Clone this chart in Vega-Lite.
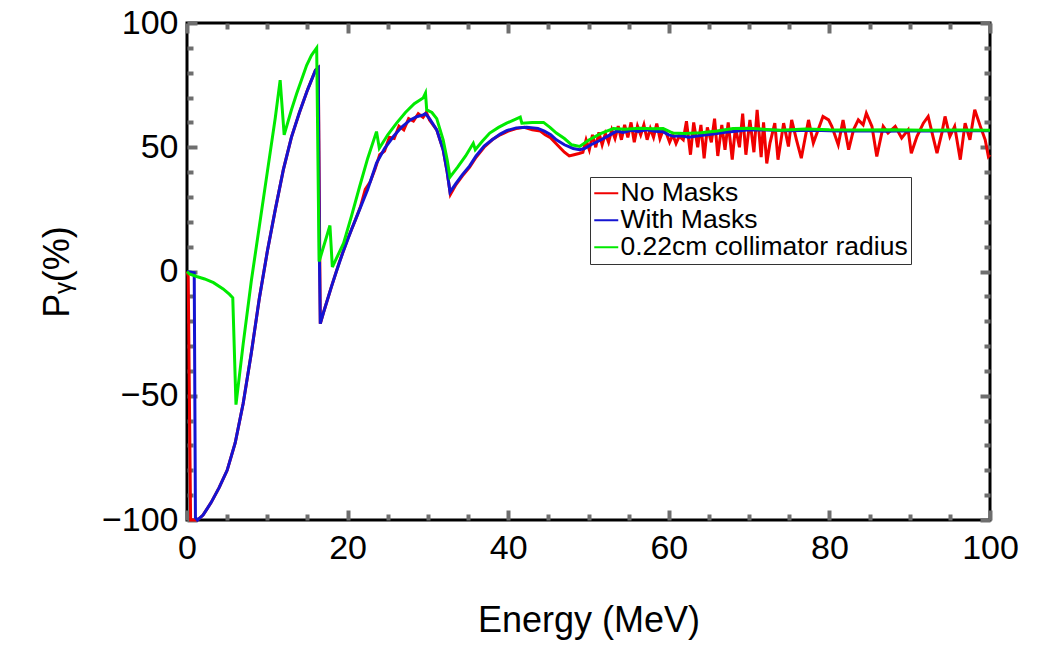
{
  "$schema": "https://vega.github.io/schema/vega-lite/v6.json",
  "width": 803,
  "height": 497,
  "autosize": {"type": "none"},
  "padding": {"left": 187, "top": 23, "right": 73, "bottom": 126},
  "background": "white",
  "config": {
    "font": "Liberation Sans",
    "view": {"stroke": "black", "strokeWidth": 3},
    "axis": {
      "domain": false,
      "grid": false,
      "ticks": true,
      "zindex": 1,
      "tickColor": "#6e6e6e",
      "tickOpacity": 1,
      "tickWidth": 3,
      "labelFlush": false,
      "labelOverlap": false,
      "labelColor": "black",
      "titleColor": "black",
      "labelFont": "Liberation Sans",
      "titleFont": "Liberation Sans",
      "titleFontWeight": "normal"
    }
  },
  "datasets": {
    "red": [
      {"E": 0, "P": 0}, {"E": 0.15, "P": -2}, {"E": 0.45, "P": -100}, {"E": 1.3, "P": -100},
      {"E": 2, "P": -98}, {"E": 3, "P": -93}, {"E": 4, "P": -87}, {"E": 5, "P": -80},
      {"E": 6, "P": -69}, {"E": 7, "P": -53}, {"E": 8, "P": -33}, {"E": 9, "P": -11},
      {"E": 10, "P": 8}, {"E": 11, "P": 25}, {"E": 12, "P": 41}, {"E": 13, "P": 54},
      {"E": 14, "P": 64}, {"E": 15, "P": 73}, {"E": 16, "P": 81}, {"E": 16.35, "P": 82},
      {"E": 16.6, "P": -21}, {"E": 17, "P": -16.5}, {"E": 18, "P": -6}, {"E": 19, "P": 4},
      {"E": 20, "P": 13}, {"E": 21, "P": 21}, {"E": 21.6, "P": 26}, {"E": 22.2, "P": 33},
      {"E": 22.8, "P": 36}, {"E": 23.4, "P": 41}, {"E": 24.0, "P": 47}, {"E": 24.6, "P": 48.5},
      {"E": 25.2, "P": 54}, {"E": 25.8, "P": 53.5}, {"E": 26.4, "P": 58.5}, {"E": 27.0, "P": 57},
      {"E": 27.6, "P": 61.5}, {"E": 28.2, "P": 60.5}, {"E": 28.8, "P": 63.5}, {"E": 29.4, "P": 62},
      {"E": 29.8, "P": 64}, {"E": 30.2, "P": 61}, {"E": 31.1, "P": 57}, {"E": 31.9, "P": 49},
      {"E": 32.4, "P": 40}, {"E": 32.8, "P": 31}, {"E": 33.5, "P": 35}, {"E": 34.3, "P": 38.5},
      {"E": 35.2, "P": 42}, {"E": 36, "P": 46}, {"E": 37, "P": 50}, {"E": 38, "P": 53},
      {"E": 39, "P": 55}, {"E": 40, "P": 56.5}, {"E": 41, "P": 57.5}, {"E": 42, "P": 58},
      {"E": 43, "P": 57}, {"E": 44, "P": 56.5}, {"E": 44.6, "P": 55}, {"E": 45.2, "P": 54},
      {"E": 45.8, "P": 52}, {"E": 46.4, "P": 50}, {"E": 47, "P": 48}, {"E": 47.6, "P": 46.5},
      {"E": 48.2, "P": 47}, {"E": 48.8, "P": 47.5}, {"E": 49.3, "P": 48}, {"E": 49.7, "P": 53},
      {"E": 50.1, "P": 49}, {"E": 50.5, "P": 55}, {"E": 50.9, "P": 50}, {"E": 51.3, "P": 56},
      {"E": 51.7, "P": 51}, {"E": 52.1, "P": 55.5}, {"E": 52.5, "P": 52}, {"E": 52.9, "P": 57},
      {"E": 53.3, "P": 53.5}, {"E": 53.7, "P": 58.5}, {"E": 54.1, "P": 53}, {"E": 54.5, "P": 59},
      {"E": 54.9, "P": 54}, {"E": 55.3, "P": 60}, {"E": 55.7, "P": 52}, {"E": 56.1, "P": 58.5},
      {"E": 56.5, "P": 55}, {"E": 56.9, "P": 59}, {"E": 57.3, "P": 53}, {"E": 57.7, "P": 57.5},
      {"E": 58.1, "P": 54}, {"E": 58.5, "P": 59.5}, {"E": 58.9, "P": 53.5}, {"E": 59.3, "P": 57},
      {"E": 59.7, "P": 55.5}, {"E": 60.1, "P": 52}, {"E": 60.5, "P": 55}, {"E": 60.9, "P": 51.5},
      {"E": 61.3, "P": 54.5}, {"E": 61.8, "P": 53}, {"E": 62.2, "P": 60.5}, {"E": 62.7, "P": 47},
      {"E": 63.1, "P": 60}, {"E": 63.6, "P": 50}, {"E": 64, "P": 59}, {"E": 64.4, "P": 45.5},
      {"E": 64.8, "P": 58}, {"E": 65.3, "P": 52}, {"E": 65.7, "P": 61.5}, {"E": 66.1, "P": 46.5},
      {"E": 66.6, "P": 59}, {"E": 67, "P": 49}, {"E": 67.4, "P": 60}, {"E": 67.9, "P": 45},
      {"E": 68.3, "P": 58}, {"E": 68.8, "P": 50}, {"E": 69.2, "P": 63.5}, {"E": 69.6, "P": 47},
      {"E": 70.1, "P": 61}, {"E": 70.6, "P": 48}, {"E": 71, "P": 65}, {"E": 71.5, "P": 46},
      {"E": 71.8, "P": 60}, {"E": 72.2, "P": 43.5}, {"E": 72.6, "P": 51.7}, {"E": 73.2, "P": 59.7},
      {"E": 73.6, "P": 45}, {"E": 74.3, "P": 59.7}, {"E": 74.9, "P": 50.3}, {"E": 75.3, "P": 61},
      {"E": 75.9, "P": 53}, {"E": 76.5, "P": 45.6}, {"E": 77.4, "P": 61}, {"E": 78, "P": 51.7},
      {"E": 78.6, "P": 57}, {"E": 79.2, "P": 62.4}, {"E": 79.9, "P": 61}, {"E": 80.3, "P": 58.4},
      {"E": 81.1, "P": 51}, {"E": 81.7, "P": 61}, {"E": 82.4, "P": 49}, {"E": 83, "P": 57},
      {"E": 83.6, "P": 61}, {"E": 84.2, "P": 59}, {"E": 84.6, "P": 63.7}, {"E": 85.3, "P": 58.4},
      {"E": 85.9, "P": 46.3}, {"E": 86.7, "P": 58.4}, {"E": 87.3, "P": 55.7}, {"E": 88.2, "P": 58.4},
      {"E": 89, "P": 53.7}, {"E": 89.8, "P": 57}, {"E": 90.2, "P": 47.6}, {"E": 90.9, "P": 54.3},
      {"E": 91.7, "P": 59.7}, {"E": 92.3, "P": 62.4}, {"E": 92.9, "P": 54.3}, {"E": 93.4, "P": 47.6},
      {"E": 94, "P": 55.7}, {"E": 94.4, "P": 62.4}, {"E": 95, "P": 54.3}, {"E": 95.6, "P": 58.4},
      {"E": 96.3, "P": 45}, {"E": 96.9, "P": 59.7}, {"E": 97.5, "P": 53}, {"E": 98.1, "P": 65.1},
      {"E": 98.8, "P": 58.4}, {"E": 99.4, "P": 53}, {"E": 99.8, "P": 46.3}, {"E": 100, "P": 47}
    ],
    "blue": [
      {"E": 0, "P": 0}, {"E": 0.9, "P": -0.5}, {"E": 1.05, "P": -99}, {"E": 1.3, "P": -100},
      {"E": 2, "P": -98}, {"E": 3, "P": -93}, {"E": 4, "P": -87}, {"E": 5, "P": -80},
      {"E": 6, "P": -69}, {"E": 7, "P": -53}, {"E": 8, "P": -33}, {"E": 9, "P": -11},
      {"E": 10, "P": 8}, {"E": 11, "P": 25}, {"E": 12, "P": 41}, {"E": 13, "P": 54},
      {"E": 14, "P": 64}, {"E": 15, "P": 73}, {"E": 16, "P": 81}, {"E": 16.35, "P": 82},
      {"E": 16.5, "P": 3}, {"E": 16.6, "P": -21}, {"E": 17, "P": -16.5}, {"E": 18, "P": -6},
      {"E": 18.6, "P": 0}, {"E": 19.5, "P": 8.5}, {"E": 20.5, "P": 17}, {"E": 21.5, "P": 25},
      {"E": 22.5, "P": 33}, {"E": 23.6, "P": 43.6}, {"E": 24.6, "P": 49.5}, {"E": 25.7, "P": 54.3},
      {"E": 26.7, "P": 58}, {"E": 27.8, "P": 61}, {"E": 28.6, "P": 62.3}, {"E": 29.4, "P": 63},
      {"E": 29.7, "P": 63.5}, {"E": 30.2, "P": 61.5}, {"E": 31.1, "P": 57}, {"E": 31.9, "P": 49},
      {"E": 32.4, "P": 40}, {"E": 32.75, "P": 32}, {"E": 33.5, "P": 35.5}, {"E": 34.3, "P": 39},
      {"E": 35.2, "P": 42.5}, {"E": 36, "P": 46.5}, {"E": 37, "P": 50.5}, {"E": 38, "P": 53},
      {"E": 39, "P": 55.3}, {"E": 39.8, "P": 56.7}, {"E": 41, "P": 57.8}, {"E": 42.3, "P": 58},
      {"E": 43.7, "P": 57.6}, {"E": 44.5, "P": 56.5}, {"E": 45.3, "P": 55}, {"E": 46, "P": 53},
      {"E": 47, "P": 51}, {"E": 48.1, "P": 49.5}, {"E": 48.9, "P": 49}, {"E": 49.5, "P": 49.5},
      {"E": 50.3, "P": 51}, {"E": 51.4, "P": 52.7}, {"E": 52.4, "P": 54.5}, {"E": 53.5, "P": 56.5},
      {"E": 54.3, "P": 56}, {"E": 55.3, "P": 56.8}, {"E": 56.2, "P": 56.3}, {"E": 57.2, "P": 57},
      {"E": 58.3, "P": 56.4}, {"E": 59.3, "P": 56.2}, {"E": 60, "P": 55}, {"E": 60.6, "P": 54.4},
      {"E": 61.5, "P": 54.6}, {"E": 62.5, "P": 54}, {"E": 63.5, "P": 54.5}, {"E": 64.7, "P": 55},
      {"E": 66, "P": 55.5}, {"E": 67, "P": 56}, {"E": 68, "P": 56.3}, {"E": 68.9, "P": 56.6},
      {"E": 70, "P": 57}, {"E": 72, "P": 56.9}, {"E": 75, "P": 56.6}, {"E": 78, "P": 56.8},
      {"E": 81, "P": 56.5}, {"E": 84, "P": 56.6}, {"E": 87, "P": 56.4}, {"E": 90, "P": 56.6},
      {"E": 93, "P": 56.5}, {"E": 96, "P": 56.6}, {"E": 100, "P": 56.6}
    ],
    "green": [
      {"E": 0, "P": 0}, {"E": 0.3, "P": -1}, {"E": 1.2, "P": -2}, {"E": 2.2, "P": -3},
      {"E": 3.3, "P": -4.5}, {"E": 4.5, "P": -7}, {"E": 5.3, "P": -9.2}, {"E": 5.7, "P": -10.6},
      {"E": 6.1, "P": -53.6}, {"E": 7, "P": -29}, {"E": 8, "P": -4}, {"E": 9, "P": 18},
      {"E": 10, "P": 40}, {"E": 11, "P": 62}, {"E": 11.6, "P": 77}, {"E": 12.1, "P": 55},
      {"E": 13, "P": 65}, {"E": 13.65, "P": 71.5}, {"E": 14.3, "P": 77.5}, {"E": 14.9, "P": 83},
      {"E": 15.5, "P": 87}, {"E": 16.15, "P": 90}, {"E": 16.45, "P": 4}, {"E": 17.8, "P": 18.5},
      {"E": 18.1, "P": 1.8}, {"E": 19.5, "P": 11.4}, {"E": 20.5, "P": 22.5}, {"E": 21.5, "P": 34.2},
      {"E": 22.5, "P": 45.5}, {"E": 23.6, "P": 56.3}, {"E": 23.95, "P": 49.6}, {"E": 25, "P": 55},
      {"E": 26.1, "P": 59.7}, {"E": 27.2, "P": 64}, {"E": 28.3, "P": 67.5}, {"E": 29.4, "P": 69.8},
      {"E": 29.7, "P": 71.8}, {"E": 29.85, "P": 65}, {"E": 30.5, "P": 64}, {"E": 31.1, "P": 61.5},
      {"E": 31.9, "P": 53}, {"E": 32.4, "P": 45}, {"E": 32.75, "P": 38}, {"E": 33.7, "P": 42},
      {"E": 34.7, "P": 46.5}, {"E": 35.65, "P": 51.6}, {"E": 35.9, "P": 49}, {"E": 36.8, "P": 52.5},
      {"E": 37.7, "P": 55.7}, {"E": 38.8, "P": 58}, {"E": 39.8, "P": 59.7}, {"E": 41.5, "P": 62.1},
      {"E": 41.7, "P": 59.7}, {"E": 43, "P": 60}, {"E": 44.4, "P": 60}, {"E": 45.2, "P": 58},
      {"E": 46, "P": 55.7}, {"E": 47, "P": 53.5}, {"E": 47.9, "P": 51}, {"E": 48.9, "P": 50.3},
      {"E": 50.1, "P": 53}, {"E": 51.5, "P": 55.5}, {"E": 53.1, "P": 57.5}, {"E": 54.5, "P": 57.2},
      {"E": 56.4, "P": 57.6}, {"E": 58, "P": 57.4}, {"E": 59.3, "P": 57.5}, {"E": 60.5, "P": 55.7},
      {"E": 62, "P": 55.5}, {"E": 64, "P": 55.8}, {"E": 66, "P": 56.5}, {"E": 68, "P": 57.5},
      {"E": 70, "P": 57.6}, {"E": 73.9, "P": 56.8}, {"E": 77, "P": 57.3}, {"E": 80, "P": 57},
      {"E": 84, "P": 56.9}, {"E": 88, "P": 57}, {"E": 92, "P": 56.8}, {"E": 96, "P": 56.9},
      {"E": 100, "P": 56.8}
    ]
  },
  "layer": [
    {
      "mark": {"type": "rule", "color": "#a0a0a0", "strokeWidth": 1.5},
      "encoding": {
        "x": {
          "datum": 0,
          "type": "quantitative",
          "scale": {"domain": [0, 100], "nice": false},
          "axis": {
            "orient": "top",
            "values": [0, 20, 40, 60, 80, 100],
            "labels": false,
            "title": null,
            "offset": -10,
            "tickSize": 10,
            "tickWidth": 4,
            "tickColor": "#6e6e6e"
          }
        },
        "x2": {"datum": 100},
        "y": {
          "datum": 0,
          "type": "quantitative",
          "scale": {"domain": [-100, 100], "nice": false},
          "axis": {
            "orient": "right",
            "values": [-100, -50, 0, 50, 100],
            "labels": false,
            "title": null,
            "offset": -10,
            "tickSize": 10,
            "tickWidth": 4,
            "tickColor": "#6e6e6e"
          }
        }
      }
    },
    {
      "data": {"name": "red"},
      "mark": {"type": "line", "strokeWidth": 3},
      "encoding": {
        "x": {
          "field": "E",
          "type": "quantitative",
          "scale": {"domain": [0, 100], "nice": false},
          "axis": {
            "orient": "bottom",
            "values": [0, 20, 40, 60, 80, 100],
            "labelFontSize": 34,
            "labelPadding": 11,
            "title": "Energy (MeV)",
            "titleFontSize": 36,
            "titlePadding": 38,
            "offset": -10,
            "tickSize": 10,
            "tickWidth": 4,
            "tickColor": "#6e6e6e"
          }
        },
        "y": {
          "field": "P",
          "type": "quantitative",
          "scale": {"domain": [-100, 100], "nice": false},
          "axis": {
            "orient": "left",
            "values": [-100, -50, 0, 50, 100],
            "labelFontSize": 34,
            "labelPadding": 9,
            "title": "Pᵧ(%)",
            "titleFontSize": 36,
            "titlePadding": 25,
            "offset": -10,
            "tickSize": 10,
            "tickWidth": 4,
            "tickColor": "#6e6e6e"
          }
        },
        "color": {
          "datum": "No Masks",
          "scale": {
            "domain": ["No Masks", "With Masks", "0.22cm collimator radius"],
            "range": ["#f00000", "#1414d2", "#00ea00"]
          },
          "legend": {
            "orient": "none",
            "legendX": 403,
            "legendY": 154,
            "title": null,
            "symbolType": "stroke",
            "symbolSize": 576,
            "symbolStrokeWidth": 2,
            "labelFont": "Liberation Sans",
            "labelFontSize": 26.5,
            "labelColor": "black",
            "labelLimit": 0,
            "labelOffset": 1,
            "rowPadding": 0,
            "padding": 3,
            "strokeColor": "#333333",
            "fillColor": "white"
          }
        }
      }
    },
    {
      "data": {"name": "blue"},
      "mark": {"type": "line", "strokeWidth": 3},
      "encoding": {
        "x": {
          "field": "E",
          "type": "quantitative",
          "axis": {
            "orient": "bottom",
            "values": [5, 10, 15, 25, 30, 35, 45, 50, 55, 65, 70, 75, 85, 90, 95],
            "labels": false,
            "title": null,
            "offset": -6,
            "tickSize": 6,
            "tickWidth": 4,
            "tickColor": "#6e6e6e"
          }
        },
        "y": {
          "field": "P",
          "type": "quantitative",
          "axis": {
            "orient": "left",
            "values": [-90, -80, -70, -60, -40, -30, -20, -10, 10, 20, 30, 40, 60, 70, 80, 90],
            "labels": false,
            "title": null,
            "offset": -6,
            "tickSize": 6,
            "tickWidth": 4,
            "tickColor": "#6e6e6e"
          }
        },
        "color": {"datum": "With Masks"}
      }
    },
    {
      "data": {"name": "green"},
      "mark": {"type": "line", "strokeWidth": 3},
      "encoding": {
        "x": {
          "field": "E",
          "type": "quantitative",
          "axis": {
            "orient": "top",
            "values": [5, 10, 15, 25, 30, 35, 45, 50, 55, 65, 70, 75, 85, 90, 95],
            "labels": false,
            "title": null,
            "offset": -6,
            "tickSize": 6,
            "tickWidth": 4,
            "tickColor": "#6e6e6e"
          }
        },
        "y": {
          "field": "P",
          "type": "quantitative",
          "axis": {
            "orient": "right",
            "values": [-90, -80, -70, -60, -40, -30, -20, -10, 10, 20, 30, 40, 60, 70, 80, 90],
            "labels": false,
            "title": null,
            "offset": -6,
            "tickSize": 6,
            "tickWidth": 4,
            "tickColor": "#6e6e6e"
          }
        },
        "color": {"datum": "0.22cm collimator radius"}
      }
    }
  ],
  "resolve": {"axis": {"x": "independent", "y": "independent"}}
}
